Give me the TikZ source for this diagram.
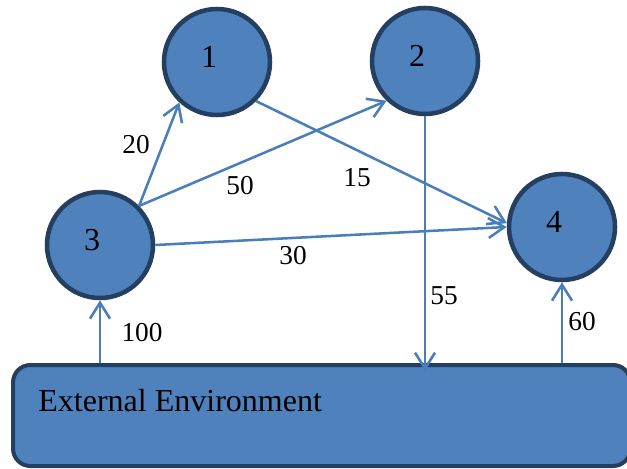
\documentclass[tikz,border=0pt]{standalone}
\usepackage{fontspec}
\setmainfont{Liberation Serif}
\usetikzlibrary{arrows.meta,positioning}

\definecolor{nodeblue}{HTML}{4F81BD}
\definecolor{rimblue}{HTML}{243F60}
\definecolor{lineblue}{HTML}{4A7EBB}

\tikzset{
  proc/.style={circle,fill=nodeblue,draw=rimblue,line width=3.4pt,
    minimum size=79.5pt,inner sep=0pt,font=\fontsize{24}{28}\selectfont,
    text height=16.2pt,text depth=7.5pt,execute at end node={\kern12pt}},
  envbox/.style={rectangle,rounded corners=13pt,fill=nodeblue,draw=rimblue,
    line width=3pt,minimum width=463pt,minimum height=75.75pt},
  flow/.style={draw=lineblue,line width=1.9pt,
    -{Straight Barb[length=12pt,width=15pt,line width=1.9pt]}},
  num/.style={font=\fontsize{20.5}{24}\selectfont,inner sep=1pt}
}

\begin{document}
\begin{tikzpicture}[x=0.75pt,y=-0.75pt]
\useasboundingbox (0,0) rectangle (627,468);
\clip (0,0) rectangle (627,468);

% processes and the environment
\node[proc] (n1) at (217,62) {1};
\node[proc] (n2) at (425,61) {2};
\node[proc] (n3) at (100,245) {3};
\node[proc] (n4) at (562,227) {4};
\node[envbox] (env) at (321.7,415.5) {};
\node[anchor=west,font=\fontsize{24}{28}\selectfont] (envtext)
  at ([xshift=17pt,yshift=-28.5pt]env.north west) {External Environment};

% flows
\draw[flow] (n3.45) -- (n1.-133);
\draw[flow] (n3.45) -- (n2.-134);
\draw[flow] (n1.-45) -- (n4.176);
\draw[flow] (n3.0) -- (n4.180);
\draw[flow,shorten >=-6pt] (n2.south) -- (n2.south |- env.north);
\draw[flow] (n3.south |- env.north) -- (n3.south);
\draw[flow] (n4.south |- env.north) -- (n4.south);

% amounts
\node[num] (w20) at (136,145) {20};
\node[num] (w50) at (240,186) {50};
\node[num] (w15) at (357,178) {15};
\node[num] (w30) at (293,256) {30};
\node[num] (w55) at (444,296) {55};
\node[num] (w100) at (142,333) {100};
\node[num] (w60) at (582,322) {60};

\end{tikzpicture}
\end{document}
